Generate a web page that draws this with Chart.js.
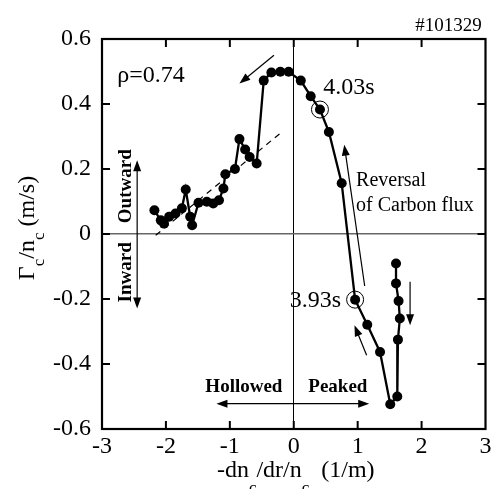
<!DOCTYPE html>
<html>
<head>
<meta charset="utf-8">
<script src="https://cdn.jsdelivr.net/npm/chart.js@4"></script>
<style>
  body { margin: 0; background: #fff; }
  #wrap { width: 495px; height: 489px; }
</style>
</head>
<body>
<div id="wrap"><canvas id="chart" width="495" height="489"></canvas></div>
<script>
// gradient -dn/dr/n (1/m) and flux Gamma_c/n_c (m/s), in time order
const gradX = [1.60, 1.60, 1.64, 1.66, 1.63, 1.62, 1.51, 1.35, 1.15, 0.96, 0.75, 0.55, 0.41, 0.265, 0.11,
  -0.08, -0.21, -0.35, -0.47, -0.58, -0.69, -0.76, -0.85, -0.92, -1.07, -1.10, -1.17, -1.26, -1.36,
  -1.49, -1.59, -1.62, -1.69, -1.75, -1.85, -1.95, -2.03, -2.08, -2.18];
const fluxY = [-0.091, -0.152, -0.206, -0.26, -0.325, -0.50, -0.524, -0.363, -0.279, -0.202, 0.156, 0.314, 0.383, 0.424, 0.472,
  0.499, 0.499, 0.497, 0.472, 0.217, 0.237, 0.26, 0.292, 0.20, 0.184, 0.14, 0.104, 0.094, 0.099,
  0.096, 0.027, 0.053, 0.137, 0.079, 0.063, 0.053, 0.032, 0.042, 0.073];

// circled times
const markX = [0.41, 0.96];
const markY = [0.383, -0.202];

// dashed trend
const trendX = [-2.16, -0.21];
const trendY = [-0.004, 0.31];

const xTicks = [-3, -2, -1, 0, 1, 2, 3];
const yTicks = [-0.6, -0.4, -0.2, 0, 0.2, 0.4, 0.6];

// arrows [x1, y1, x2, y2], head at the second point
const arrows = [
  [-0.31, 0.55, -0.85, 0.463],
  [1.11, -0.16, 0.79, 0.275],
  [1.14, -0.373, 0.95, -0.281],
  [1.82, -0.147, 1.82, -0.281],
  [-2.45, 0, -2.45, 0.227],
  [-2.45, 0, -2.45, -0.229],
  [0, -0.522, -1.21, -0.522],
  [0, -0.522, 1.18, -0.522]
];

const serif = '"Liberation Serif", "Times New Roman", serif';

const pts = (xs, ys) => xs.map((x, i) => ({ x: x, y: ys[i] }));

function arrow(ctx, x1, y1, x2, y2) {
  const a = Math.atan2(y2 - y1, x2 - x1);
  const L = 11, W = 4;
  ctx.beginPath();
  ctx.moveTo(x1, y1);
  ctx.lineTo(x2 - L * 0.8 * Math.cos(a), y2 - L * 0.8 * Math.sin(a));
  ctx.stroke();
  ctx.beginPath();
  ctx.moveTo(x2, y2);
  ctx.lineTo(x2 - L * Math.cos(a) + W * Math.sin(a), y2 - L * Math.sin(a) - W * Math.cos(a));
  ctx.lineTo(x2 - L * Math.cos(a) - W * Math.sin(a), y2 - L * Math.sin(a) + W * Math.cos(a));
  ctx.closePath();
  ctx.fill();
}

// text with subscripts, parts = [[text, isSub], ...]
function richText(ctx, parts, x, y, size, drop) {
  const big = size + 'px ' + serif, small = Math.round(size * 0.7) + 'px ' + serif;
  let w = 0;
  parts.forEach(p => { ctx.font = p[1] ? small : big; w += ctx.measureText(p[0]).width; });
  let cx = x - w / 2;
  ctx.textAlign = 'left';
  ctx.textBaseline = 'alphabetic';
  parts.forEach(p => {
    ctx.font = p[1] ? small : big;
    ctx.fillText(p[0], cx, p[1] ? y + drop : y);
    cx += ctx.measureText(p[0]).width;
  });
}

const decor = {
  id: 'decor',
  afterDraw(chart) {
    const { ctx, chartArea: ca, scales: { x, y } } = chart;
    ctx.save();
    ctx.strokeStyle = '#000';
    ctx.fillStyle = '#000';

    // inward ticks on all four sides
    ctx.lineWidth = 2;
    xTicks.slice(1, -1).forEach(v => {
      const px = x.getPixelForValue(v);
      ctx.beginPath();
      ctx.moveTo(px, ca.bottom); ctx.lineTo(px, ca.bottom - 8);
      ctx.moveTo(px, ca.top); ctx.lineTo(px, ca.top + 8);
      ctx.stroke();
    });
    yTicks.slice(1, -1).forEach(v => {
      const py = y.getPixelForValue(v);
      ctx.beginPath();
      ctx.moveTo(ca.left, py); ctx.lineTo(ca.left + 8, py);
      ctx.moveTo(ca.right, py); ctx.lineTo(ca.right - 8, py);
      ctx.stroke();
    });
    ctx.lineWidth = 2.2;
    ctx.strokeRect(ca.left, ca.top, ca.right - ca.left, ca.bottom - ca.top);

    // arrows
    ctx.lineWidth = 1.2;
    arrows.forEach(a => arrow(ctx, x.getPixelForValue(a[0]), y.getPixelForValue(a[1]),
      x.getPixelForValue(a[2]), y.getPixelForValue(a[3])));

    const at = (vx, vy) => [x.getPixelForValue(vx), y.getPixelForValue(vy)];
    ctx.textBaseline = 'middle';

    ctx.font = '24px ' + serif;
    ctx.textAlign = 'left';
    let p = at(-2.76, 0.488); ctx.fillText('\u03c1=0.74', p[0], p[1]);
    p = at(0.46, 0.449); ctx.fillText('4.03s', p[0], p[1]);
    ctx.textAlign = 'right';
    p = at(0.74, -0.204); ctx.fillText('3.93s', p[0], p[1]);

    ctx.font = '20px ' + serif;
    ctx.textAlign = 'left';
    p = at(0.975, 0.165); ctx.fillText('Reversal', p[0], p[1]);
    p = at(0.975, 0.088); ctx.fillText('of Carbon flux', p[0], p[1]);

    ctx.font = '19px ' + serif;
    ctx.textAlign = 'right';
    p = at(2.94, 0.64); ctx.fillText('#101329', p[0], p[1]);

    ctx.font = 'bold 19px ' + serif;
    ctx.textAlign = 'center';
    p = at(-0.78, -0.471); ctx.fillText('Hollowed', p[0], p[1]);
    p = at(0.69, -0.471); ctx.fillText('Peaked', p[0], p[1]);

    ctx.save();
    p = at(-2.62, 0.147); ctx.translate(p[0], p[1]); ctx.rotate(-Math.PI / 2);
    ctx.fillText('Outward', 0, 0);
    ctx.restore();
    ctx.save();
    p = at(-2.62, -0.118); ctx.translate(p[0], p[1]); ctx.rotate(-Math.PI / 2);
    ctx.fillText('Inward', 0, 0);
    ctx.restore();

    // axis titles
    richText(ctx, [['-dn', false], ['c', true], ['/dr/n', false], ['c', true], ['  (1/m)', false]],
      (ca.left + ca.right) / 2 + 2, 477, 24, 16);
    ctx.save();
    ctx.translate(34, (ca.top + ca.bottom) / 2 - 6);
    ctx.rotate(-Math.PI / 2);
    richText(ctx, [['\u0393', false], ['c', true], ['/n', false], ['c', true], [' (m/s)', false]], 0, 0, 24, 10);
    ctx.restore();

    ctx.restore();
  }
};

new Chart(document.getElementById('chart'), {
  type: 'scatter',
  data: {
    datasets: [
      {
        data: pts(gradX, fluxY),
        showLine: true,
        borderColor: '#000',
        borderWidth: 2.3,
        backgroundColor: '#000',
        pointRadius: 5,
        pointBorderWidth: 0
      },
      {
        data: pts(markX, markY),
        showLine: false,
        pointRadius: 8.5,
        borderColor: '#000',
        borderWidth: 1,
        backgroundColor: 'rgba(0,0,0,0)'
      },
      {
        data: pts(trendX, trendY),
        showLine: true,
        borderColor: '#000',
        borderWidth: 1.2,
        borderDash: [6, 5],
        pointRadius: 0
      }
    ]
  },
  options: {
    responsive: false,
    animation: false,
    layout: { padding: { top: 39, right: 3, left: 0, bottom: 0 } },
    plugins: { legend: { display: false }, tooltip: { enabled: false } },
    scales: {
      x: {
        type: 'linear',
        min: -3, max: 3,
        afterBuildTicks: s => { s.ticks = xTicks.map(v => ({ value: v })); },
        afterFit: s => { s.height = 60; },
        border: { display: false },
        grid: {
          drawTicks: false,
          color: c => (c.tick && c.tick.value === 0) ? '#000' : 'rgba(0,0,0,0)',
          lineWidth: 1
        },
        ticks: {
          padding: 3,
          color: '#000',
          font: { family: serif, size: 24 },
          callback: v => String(v)
        }
      },
      y: {
        type: 'linear',
        min: -0.6, max: 0.6,
        afterBuildTicks: s => { s.ticks = yTicks.map(v => ({ value: v })); },
        afterFit: s => { s.width = 102; },
        border: { display: false },
        grid: {
          drawTicks: false,
          color: c => (c.tick && c.tick.value === 0) ? '#666' : 'rgba(0,0,0,0)',
          lineWidth: 1.5
        },
        ticks: {
          padding: 11,
          color: '#000',
          font: { family: serif, size: 24 },
          callback: v => Math.abs(v) < 1e-9 ? '0' : v.toFixed(1)
        }
      }
    }
  },
  plugins: [decor]
});
</script>
</body>
</html>
